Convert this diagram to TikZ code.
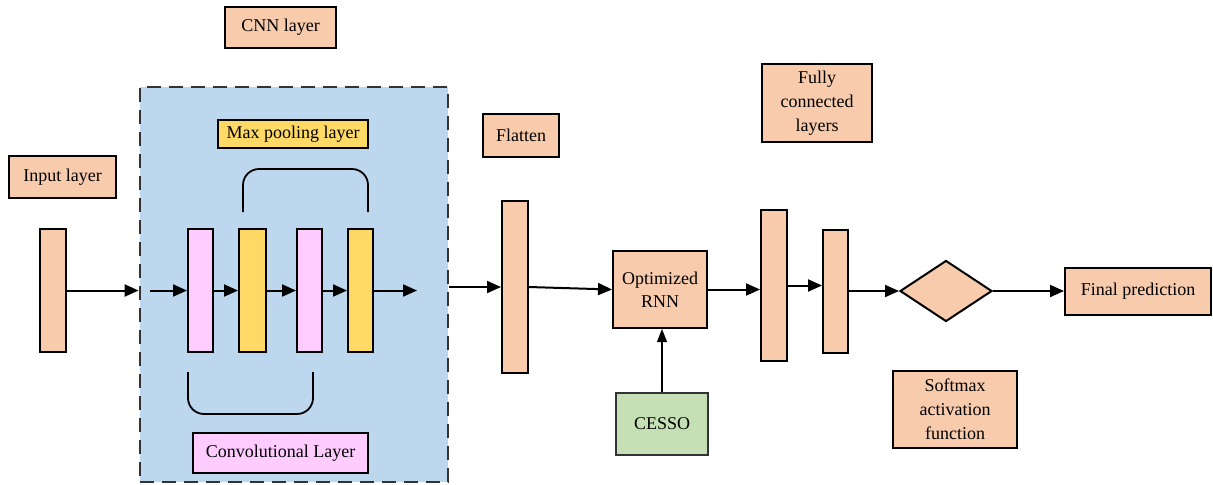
\documentclass[tikz,border=0pt]{standalone}
\usepackage{fontspec}
\setmainfont{Liberation Serif}
\usetikzlibrary{shapes.geometric,arrows.meta,calc}
\definecolor{peach}{HTML}{F8CBAD}
\definecolor{pinkc}{HTML}{FFCCFF}
\definecolor{yell}{HTML}{FFD966}
\definecolor{bluec}{HTML}{BDD7EE}
\definecolor{greenc}{HTML}{C5E0B4}
\tikzset{
  box/.style={draw=black, line width=1pt, inner sep=0pt, align=center, font=\fontsize{9}{12}\selectfont},
  bar/.style={draw=black, line width=1pt, inner sep=0pt, minimum height=61.5pt},
  arr/.style={line width=1pt, -{Triangle[length=7pt,width=6pt]}},
  thinarr/.style={line width=0.6pt, -{Triangle[length=6.5pt,width=5pt]}},
  brace/.style={line width=0.9pt, rounded corners=8pt}
}
\begin{document}
\begin{tikzpicture}[x=0.5pt,y=-0.5pt]
\useasboundingbox (0,0) rectangle (1213,484);
% CNN dashed region
\node[draw=black!80, fill=bluec, line width=1.4pt, dash pattern=on 7pt off 4pt, minimum width=154pt, minimum height=197.5pt, inner sep=0pt] (cnnbox) at (294,284.5) {};
% labels
\node[box, fill=peach, minimum width=55.5pt, minimum height=20.5pt] (cnnlbl) at (280.5,27.5) {CNN layer};
\node[box, fill=yell, minimum width=75pt, minimum height=14pt] (maxlbl) at (293,134) {Max pooling layer};
\node[box, fill=peach, minimum width=53.5pt, minimum height=21pt] (inlbl) at (62.5,177) {Input layer};
\node[box, fill=pinkc, minimum width=87.5pt, minimum height=20pt] (convlbl) at (280.5,453) {Convolutional Layer};
\node[box, fill=peach, minimum width=38pt, minimum height=21.5pt] (flatlbl) at (521,135.5) {Flatten};
\node[box, fill=peach, minimum width=55pt, minimum height=39pt] (fclbl) at (817,103) {Fully\\connected\\layers};
\node[box, fill=peach, minimum width=62pt, minimum height=38.5pt] (softlbl) at (955,409.5) {Softmax\\activation\\function};
% bars
\node[bar, fill=peach, minimum width=13pt] (inbar) at (53,290.5) {};
\node[bar, fill=pinkc, minimum width=12.5pt] (conv1) at (200.5,290.5) {};
\node[bar, fill=yell, minimum width=13.5pt] (pool1) at (252.5,290.5) {};
\node[bar, fill=pinkc, minimum width=12.5pt] (conv2) at (309.5,290.5) {};
\node[bar, fill=yell, minimum width=12.5pt] (pool2) at (360.5,290.5) {};
\node[bar, fill=peach, minimum width=13pt, minimum height=86pt] (flatbar) at (515,287) {};
\node[bar, fill=peach, minimum width=13pt, minimum height=75.5pt] (fc1) at (774,285.5) {};
\node[bar, fill=peach, minimum width=12.5pt] (fc2) at (835.5,291) {};
% main boxes
\node[box, fill=peach, minimum width=47pt, minimum height=38.5pt, font=\fontsize{9}{11.5}\selectfont] (rnn) at (660,289.5) {Optimized\\RNN};
\node[box, fill=greenc, draw=black!80, line width=0.8pt, minimum width=46pt, minimum height=31pt] (cesso) at (662,424) {CESSO};
\node[draw=black, line width=1pt, fill=peach, diamond, minimum width=46pt, minimum height=30.5pt, inner sep=0pt] (sm) at (946,291) {};
\node[box, fill=peach, minimum width=73pt, minimum height=23.5pt] (final) at (1138,291) {Final prediction};
% coordinates inside CNN region
\coordinate (cin) at (150,290.5);
\coordinate (cout) at (417,290.5);
% braces
\draw[brace] (243,212) -- (243,169) -- (368,169) -- (368,212);
\draw[brace] (188,372) -- (188,414) -- (313,414) -- (313,372);
% connectors
\draw[arr] (inbar.east) -- (inbar.east -| cnnbox.west);
\draw[arr] (cin) -- (conv1.west);
\draw[arr] (conv1.east) -- (pool1.west);
\draw[arr] (pool1.east) -- (conv2.west);
\draw[arr] (conv2.east) -- (pool2.west);
\draw[arr] (pool2.east) -- (cout);
\draw[arr] (cnnbox.east |- flatbar.west) -- (flatbar.west);
\draw[arr] (flatbar.east) -- (rnn.west);
\draw[arr] (rnn.east) -- (rnn.east -| fc1.west);
\draw[arr] (fc1.east) -- (fc1.east -| fc2.west);
\draw[arr] (fc2.east) -- (sm.west);
\draw[arr] (sm.east) -- (final.west);
\draw[thinarr] (cesso.north) -- (cesso.north |- rnn.south);
\end{tikzpicture}
\end{document}
